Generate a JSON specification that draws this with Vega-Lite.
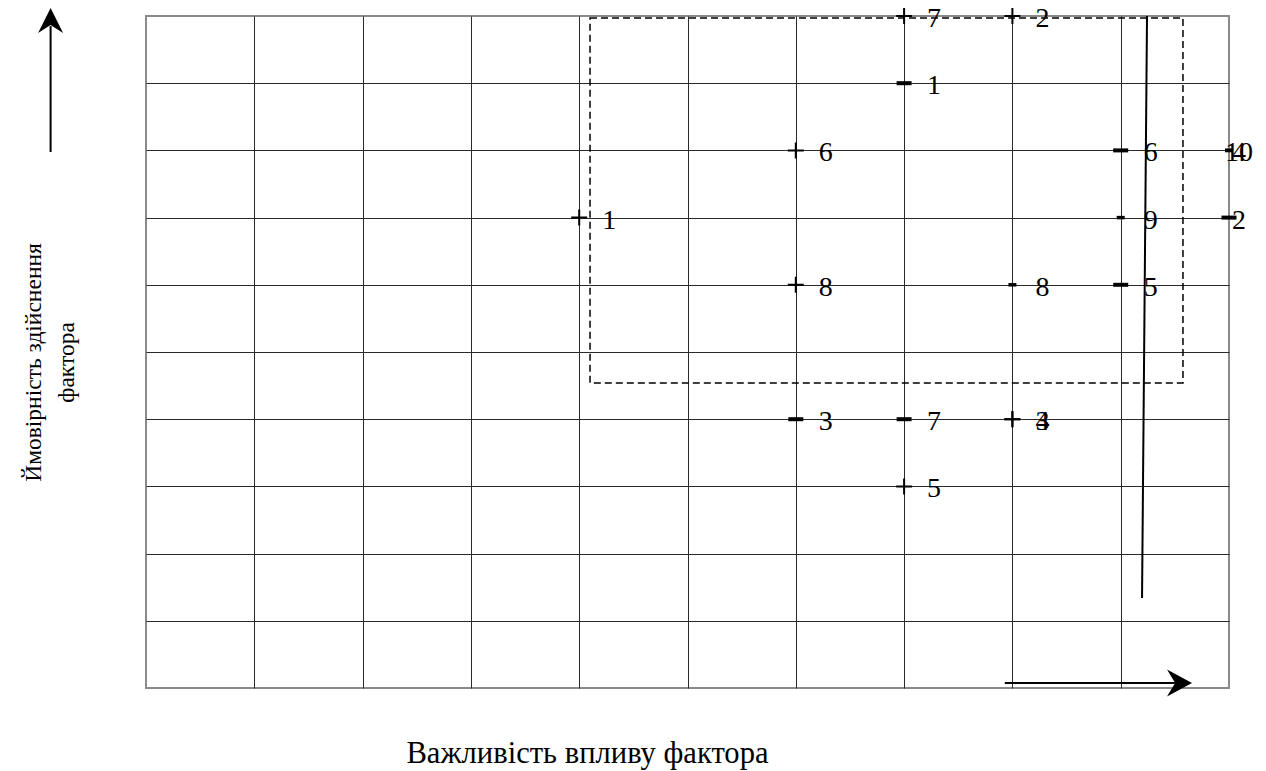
{
  "$schema": "https://vega.github.io/schema/vega-lite/v6.json",
  "width": 1083,
  "height": 672,
  "autosize": {"type": "none"},
  "padding": {"left": 146, "top": 16, "right": 37, "bottom": 83},
  "background": "white",
  "config": {
    "view": {"stroke": "#8a8a8a", "strokeWidth": 2},
    "font": "Liberation Serif",
    "axis": {
      "grid": true, "gridColor": "#2a2a2a", "gridWidth": 1, "gridOpacity": 1,
      "labels": false, "ticks": false, "domain": false,
      "titleFont": "Liberation Serif", "titleFontWeight": "normal", "titleColor": "black"
    }
  },
  "datasets": {
    "points": [
      {"x": 7, "y": 10, "sign": "plus", "label": "7"},
      {"x": 8, "y": 10, "sign": "plus", "label": "2"},
      {"x": 7, "y": 9, "sign": "minus", "label": "1"},
      {"x": 6, "y": 8, "sign": "plus", "label": "6"},
      {"x": 9, "y": 8, "sign": "minus", "label": "6"},
      {"x": 10, "y": 8, "sign": "dot", "label": "10"},
      {"x": 10, "y": 8, "sign": "dot", "label": "4"},
      {"x": 4, "y": 7, "sign": "plus", "label": "1"},
      {"x": 9, "y": 7, "sign": "dot", "label": "9"},
      {"x": 10, "y": 7, "sign": "minus", "label": "2"},
      {"x": 6, "y": 6, "sign": "plus", "label": "8"},
      {"x": 8, "y": 6, "sign": "dot", "label": "8"},
      {"x": 9, "y": 6, "sign": "minus", "label": "5"},
      {"x": 6, "y": 4, "sign": "minus", "label": "3"},
      {"x": 7, "y": 4, "sign": "minus", "label": "7"},
      {"x": 8, "y": 4, "sign": "plus", "label": "4"},
      {"x": 8, "y": 4, "sign": "plus", "label": "3"},
      {"x": 7, "y": 3, "sign": "plus", "label": "5"}
    ],
    "box": [{"x1": 4.1, "x2": 9.575, "y1": 4.54, "y2": 9.97}],
    "vline": [{"x1": 9.243, "y1": 10, "x2": 9.197, "y2": 1.34}],
    "arrows": [
      {"dir": "up", "x1": -0.881, "y1": 7.976, "x2": -0.881, "y2": 9.85, "hx": -0.881, "hy": 9.933},
      {"dir": "right", "x1": 7.93, "y1": 0.074, "x2": 9.5, "y2": 0.074, "hx": 9.543, "hy": 0.074}
    ]
  },
  "layer": [
    {
      "data": {"name": "box"},
      "mark": {"type": "rect", "fill": null, "stroke": "black", "strokeWidth": 1.5, "strokeDash": [7, 4]},
      "encoding": {
        "x": {
          "field": "x1", "type": "quantitative",
          "scale": {"domain": [0, 10], "nice": false, "zero": false},
          "axis": {
            "values": [1, 2, 3, 4, 5, 6, 7, 8, 9],
            "title": "Важливість впливу фактора", "titleFontSize": 30.6,
            "titleX": 441, "titleY": 74, "titleBaseline": "alphabetic", "titleAlign": "center"
          }
        },
        "x2": {"field": "x2"},
        "y": {
          "field": "y1", "type": "quantitative",
          "scale": {"domain": [0, 10], "nice": false, "zero": false},
          "axis": {
            "values": [1, 2, 3, 4, 5, 6, 7, 8, 9],
            "title": ["Ймовірність здійснення", "фактора"], "titleFontSize": 23.5,
            "titleAngle": -90, "titleX": -112.5, "titleY": 346, "titleBaseline": "middle", "titleAlign": "center", "titleLineHeight": 33
          }
        },
        "y2": {"field": "y2"}
      }
    },
    {
      "data": {"name": "vline"},
      "mark": {"type": "rule", "stroke": "black", "strokeWidth": 2},
      "encoding": {
        "x": {"field": "x1", "type": "quantitative"},
        "y": {"field": "y1", "type": "quantitative"},
        "x2": {"field": "x2"},
        "y2": {"field": "y2"}
      }
    },
    {
      "data": {"name": "arrows"},
      "mark": {"type": "rule", "stroke": "black", "strokeWidth": 2},
      "encoding": {
        "x": {"field": "x1", "type": "quantitative"},
        "y": {"field": "y1", "type": "quantitative"},
        "x2": {"field": "x2"},
        "y2": {"field": "y2"}
      }
    },
    {
      "data": {"name": "arrows"},
      "transform": [{"filter": "datum.dir === 'up'"}],
      "mark": {"type": "point", "shape": "M0,-1L1,1L0,0.35L-1,1Z", "size": 625, "filled": true, "fill": "black", "stroke": null, "opacity": 1},
      "encoding": {
        "x": {"field": "hx", "type": "quantitative"},
        "y": {"field": "hy", "type": "quantitative"}
      }
    },
    {
      "data": {"name": "arrows"},
      "transform": [{"filter": "datum.dir === 'right'"}],
      "mark": {"type": "point", "shape": "M0,-1L1.08,1L0,0.35L-1.08,1Z", "size": 625, "angle": 90, "filled": true, "fill": "black", "stroke": null, "opacity": 1},
      "encoding": {
        "x": {"field": "hx", "type": "quantitative"},
        "y": {"field": "hy", "type": "quantitative"}
      }
    },
    {
      "data": {"name": "points"},
      "transform": [{"filter": "datum.sign === 'plus'"}],
      "mark": {"type": "point", "shape": "M-1,0H1M0,-1V1", "size": 256, "filled": false, "stroke": "black", "strokeWidth": 2, "opacity": 1},
      "encoding": {
        "x": {"field": "x", "type": "quantitative"},
        "y": {"field": "y", "type": "quantitative"}
      }
    },
    {
      "data": {"name": "points"},
      "transform": [{"filter": "datum.sign === 'minus'"}],
      "mark": {"type": "point", "shape": "M-1,0H1", "size": 225, "filled": false, "stroke": "black", "strokeWidth": 4, "opacity": 1},
      "encoding": {
        "x": {"field": "x", "type": "quantitative"},
        "y": {"field": "y", "type": "quantitative"}
      }
    },
    {
      "data": {"name": "points"},
      "transform": [{"filter": "datum.sign === 'dot'"}],
      "mark": {"type": "point", "shape": "M-1,0H1", "size": 64, "filled": false, "stroke": "black", "strokeWidth": 3.5, "opacity": 1},
      "encoding": {
        "x": {"field": "x", "type": "quantitative"},
        "y": {"field": "y", "type": "quantitative"}
      }
    },
    {
      "data": {"name": "points"},
      "transform": [{"filter": "datum.x < 10"}],
      "mark": {"type": "text", "font": "Liberation Serif", "fontSize": 28, "align": "center", "baseline": "middle", "dx": 30, "dy": 3, "fill": "black"},
      "encoding": {
        "x": {"field": "x", "type": "quantitative"},
        "y": {"field": "y", "type": "quantitative"},
        "text": {"field": "label"}
      }
    },
    {
      "data": {"name": "points"},
      "transform": [{"filter": "datum.x >= 10"}],
      "mark": {"type": "text", "font": "Liberation Serif", "fontSize": 28, "align": "center", "baseline": "middle", "dx": 10, "dy": 3, "fill": "black"},
      "encoding": {
        "x": {"field": "x", "type": "quantitative"},
        "y": {"field": "y", "type": "quantitative"},
        "text": {"field": "label"}
      }
    }
  ]
}
